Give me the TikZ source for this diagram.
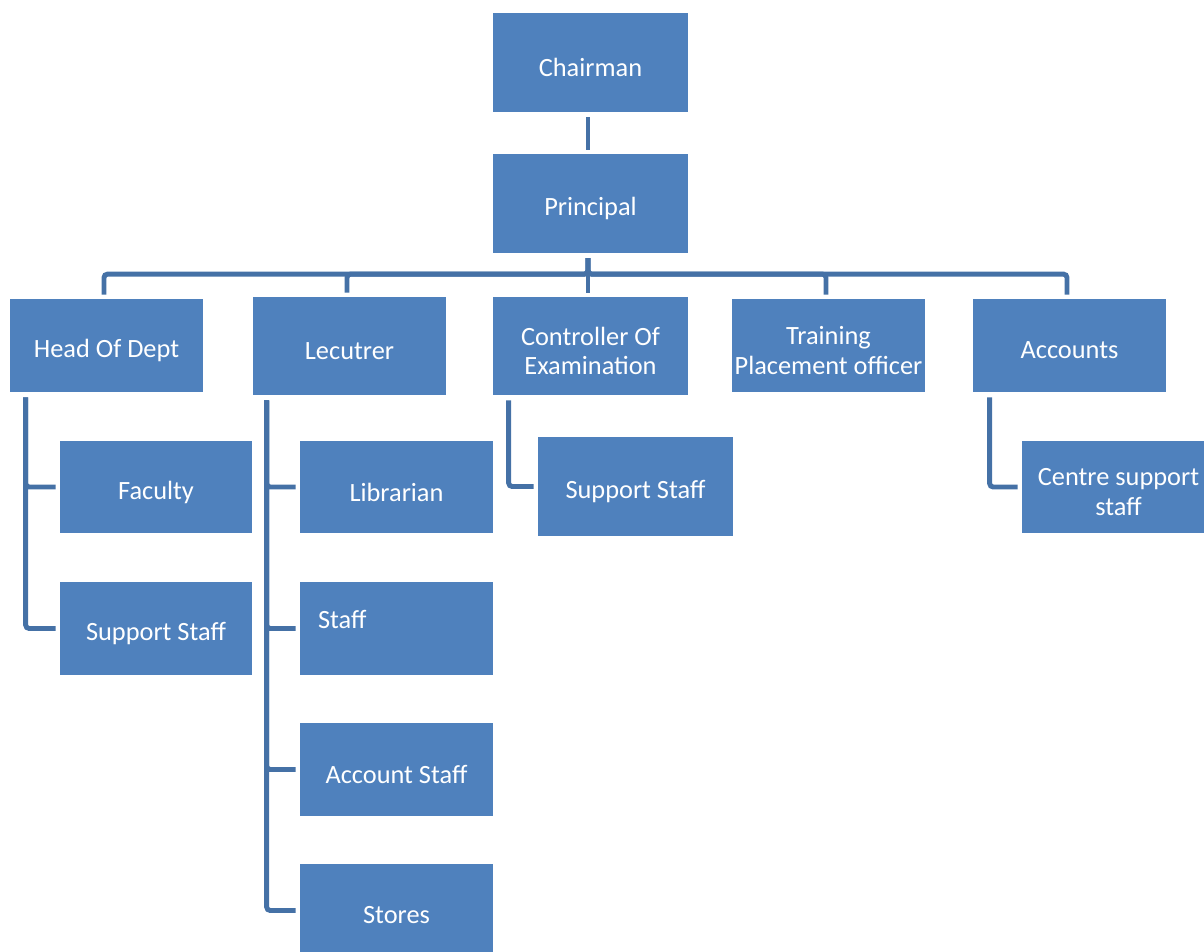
\documentclass[tikz,border=0pt]{standalone}
\usepackage{fontspec}
\setmainfont{Carlito}
\usepackage{tikz}
\definecolor{boxblue}{HTML}{4F81BD}
\definecolor{lineblue}{HTML}{4571A6}
\newcommand{\orgfont}{\fontsize{15}{16.8}\selectfont}

\begin{document}
\begin{tikzpicture}[x=0.02cm,y=-0.02cm,
	txt/.style={text=white,font=\orgfont,align=center,inner sep=0pt},
	box/.style={fill=boxblue,inner sep=0pt,minimum width=3.86cm,minimum height=1.86cm,label={[txt,yshift=-0.1cm]center:#1}},
	bigbox/.style={box=#1,minimum width=3.9cm,minimum height=1.97cm},
	conn/.style={draw=lineblue,line width=2.8pt,rounded corners=2pt,shorten <=0.1cm,shorten >=0.08cm}]
	\useasboundingbox (0,0) rectangle (1204,951);
	% top
	\node[bigbox=Chairman] (chairman) at (590.5,62.5) {};
	\node[bigbox=Principal] (principal) at (590.5,203.5) {};
	% second row
	\node[box=Head Of Dept] (hod) at (106.5,345.5) {};
	\node[box=Lecutrer,minimum height=1.96cm] (lect) at (349.5,346) {};
	\node[bigbox=Controller Of\\Examination,minimum height=1.96cm] (coe) at (590.5,346) {};
	\node[box=Training\\Placement officer] (tpo) at (828.5,345.5) {};
	\node[box=Accounts] (acc) at (1069.5,345.5) {};
	% children
	\node[box=Faculty,minimum width=3.84cm,minimum height=1.84cm] (faculty) at (156,487) {};
	\node[box=Support Staff,minimum width=3.84cm] (hodsup) at (156,628.5) {};
	\node[box=Librarian,minimum height=1.84cm] (lib) at (396.5,487) {};
	\node[box={},label={[txt,anchor=west,xshift=0.36cm,yshift=0.19cm]west:Staff}] (staff) at (396.5,628.5) {};
	\node[box=Account Staff] (accstaff) at (396.5,769.5) {};
	\node[box=Stores] (stores) at (396.5,910.5) {};
	\node[bigbox=Support Staff] (coesup) at (635.5,486.5) {};
	\node[box=Centre support\\staff,minimum height=1.84cm] (centre) at (1118.5,487) {};
	% connectors
	\draw[conn] ([xshift=-0.05cm]chairman.south) -- ([xshift=-0.05cm]principal.north);
	\foreach \c in {hod,lect,coe,tpo,acc}
		\draw[conn] ([xshift=-0.05cm]principal.south) -- ++(0,21) -| ([xshift=-0.05cm]\c.north);
	\foreach \c in {faculty,hodsup}
		\draw[conn] ([xshift=0.32cm]hod.south west) |- (\c.west);
	\foreach \c in {lib,staff,accstaff,stores}
		\draw[conn] ([xshift=0.28cm]lect.south west) |- (\c.west);
	\draw[conn] ([xshift=0.32cm]coe.south west) |- (coesup.west);
	\draw[conn] ([xshift=0.34cm]acc.south west) |- (centre.west);
\end{tikzpicture}
\end{document}
